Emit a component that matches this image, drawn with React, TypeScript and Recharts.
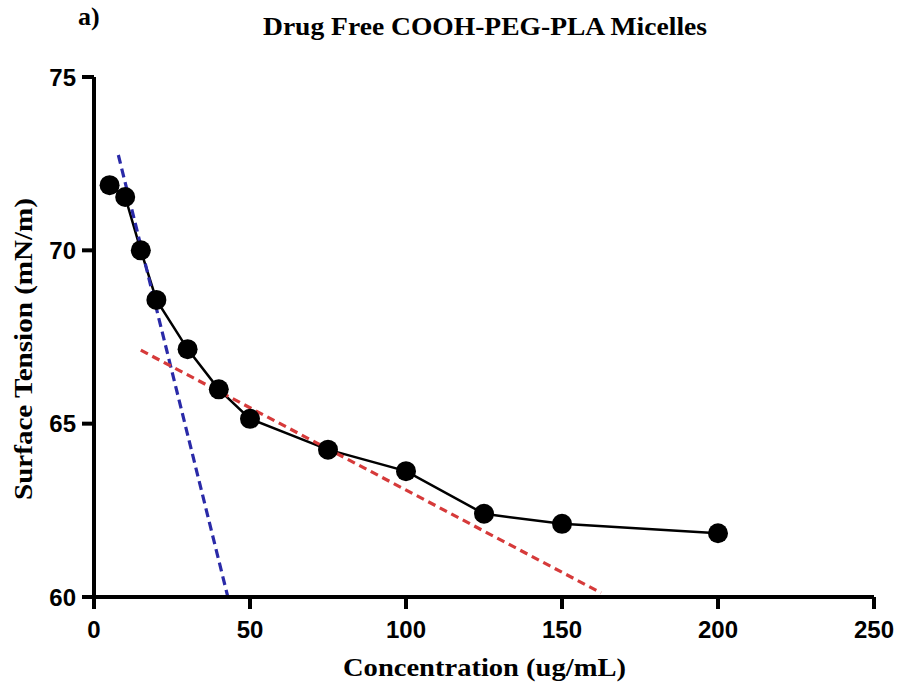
import React from 'react';
import { LineChart, Line, XAxis, YAxis } from 'recharts';

const concentrations = [5, 10, 15, 20, 30, 40, 50, 75, 100, 125, 150, 200];
const tensions = [71.88, 71.54, 70.0, 68.57, 67.15, 65.99, 65.14, 64.25, 63.63, 62.4, 62.11, 61.84];

const blueFitX = [7.8, 42.9];
const blueFitY = [72.75, 60.0];
const redFitX = [15, 162.5];
const redFitY = [67.12, 60.12];

const xTicks = [0, 50, 100, 150, 200, 250];
const yTicks = [60, 65, 70, 75];

const titleText = 'Drug Free COOH-PEG-PLA Micelles';
const panelText = 'a)';
const xLabelText = 'Concentration (ug/mL)';
const yLabelText = 'Surface Tension (mN/m)';

const mainData = concentrations.map((x, i) => ({ x, y: tensions[i] }));
const blueData = blueFitX.map((x, i) => ({ x, y: blueFitY[i] }));
const redData = redFitX.map((x, i) => ({ x, y: redFitY[i] }));

const tickFont = {
  fontFamily: '"Liberation Sans", Arial, sans-serif',
  fontWeight: 700,
  fontSize: 24,
  fill: '#000',
};

const serif = '"Liberation Serif", "Times New Roman", serif';

export default function App() {
  return (
    <div style={{ position: 'absolute', left: 0, top: 0, width: 898, height: 691, background: '#fff' }}>
      <LineChart
        width={898}
        height={691}
        margin={{ top: 77, right: 24, left: 24, bottom: 54 }}
      >
        <XAxis
          type="number"
          dataKey="x"
          domain={[0, 250]}
          ticks={xTicks}
          allowDataOverflow
          height={40}
          axisLine={{ stroke: '#000', strokeWidth: 4 }}
          tickLine={{ stroke: '#000', strokeWidth: 4 }}
          tickSize={12}
          tickMargin={12}
          tick={tickFont}
        />
        <YAxis
          type="number"
          dataKey="y"
          domain={[60, 75]}
          ticks={yTicks}
          allowDataOverflow
          width={70}
          axisLine={{ stroke: '#000', strokeWidth: 4 }}
          tickLine={{ stroke: '#000', strokeWidth: 4 }}
          tickSize={12}
          tickMargin={6}
          tick={tickFont}
        />
        <Line
          data={mainData}
          dataKey="y"
          stroke="#000"
          strokeWidth={2.5}
          dot={{ r: 10, fill: '#000', stroke: '#000', strokeWidth: 0 }}
          activeDot={false}
          isAnimationActive={false}
        />
        <Line
          data={blueData}
          dataKey="y"
          stroke="#2a2aa8"
          strokeWidth={3.2}
          strokeDasharray="9 5"
          dot={false}
          activeDot={false}
          isAnimationActive={false}
        />
        <Line
          data={redData}
          dataKey="y"
          stroke="#d63a3a"
          strokeWidth={3.2}
          strokeDasharray="8 5"
          dot={false}
          activeDot={false}
          isAnimationActive={false}
        />
      </LineChart>
      <svg
        width={898}
        height={691}
        style={{ position: 'absolute', left: 0, top: 0, pointerEvents: 'none' }}
      >
        <text x={78} y={25} fontFamily={serif} fontWeight={700} fontSize={26} fill="#000">
          {panelText}
        </text>
        <text
          x={263}
          y={35}
          fontFamily={serif}
          fontWeight={700}
          fontSize={26}
          fill="#000"
          textLength={444}
          lengthAdjust="spacingAndGlyphs"
        >
          {titleText}
        </text>
        <text
          x={343}
          y={676}
          fontFamily={serif}
          fontWeight={700}
          fontSize={26}
          fill="#000"
          textLength={283}
          lengthAdjust="spacingAndGlyphs"
        >
          {xLabelText}
        </text>
        <text
          x={0}
          y={0}
          transform="translate(32 500) rotate(-90)"
          fontFamily={serif}
          fontWeight={700}
          fontSize={26}
          fill="#000"
          textLength={302}
          lengthAdjust="spacingAndGlyphs"
        >
          {yLabelText}
        </text>
      </svg>
    </div>
  );
}
